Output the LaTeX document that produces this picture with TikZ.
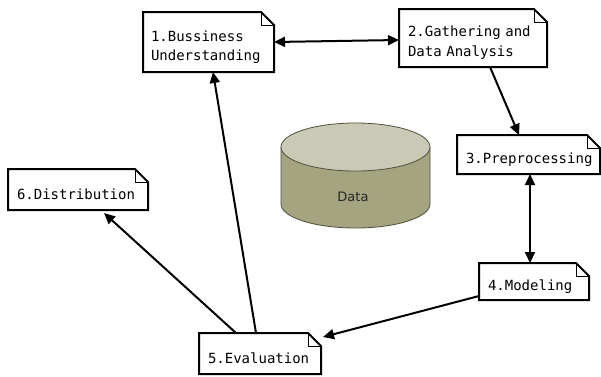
\documentclass[tikz,border=0pt]{standalone}
\usepackage{fontspec}
\setmainfont{DejaVu Sans}
\newfontfamily\notemono{DejaVu Sans Mono}
\usetikzlibrary{arrows.meta}
\definecolor{cyltop}{RGB}{201,201,181}
\definecolor{cylbody}{RGB}{164,164,128}
\definecolor{cyledge}{RGB}{80,80,60}
\tikzset{
 note/.style={rectangle, draw=none, outer sep=0pt, inner sep=0pt},
 notetext/.style={inner xsep=0pt, inner ysep=0pt, align=left, yshift=-5pt,
   font=\notemono\fontsize{14}{19.5}\selectfont},
 link/.style={line width=2pt, -{Triangle[length=11pt,width=10pt]}},
 dlink/.style={line width=2pt, {Triangle[length=11pt,width=10pt]}-{Triangle[length=11pt,width=10pt]}},
 noteedge/.style={line width=2pt, line join=miter},
 fold/.style={line width=0.8pt},
}
\newcommand\dognote[1]{%
 \draw[noteedge] (#1.north west) -- ([xshift=-13pt]#1.north east) -- ([yshift=-13pt]#1.north east) -- (#1.south east) -- (#1.south west) -- cycle;
 \draw[fold] ([xshift=-13pt]#1.north east) -- ([xshift=-13pt,yshift=-13pt]#1.north east) -- ([yshift=-13pt]#1.north east);
}
\begin{document}
\begin{tikzpicture}[x=1pt,y=-1pt]
\useasboundingbox (0,0) rectangle (601,376);
% cylinder
\fill[cylbody] (281,147) -- (281,204) arc[start angle=180, end angle=360, x radius=74.5pt, y radius=24pt] -- (430,147) -- cycle;
\draw[cyledge, line width=0.8pt] (281,147) -- (281,204) arc[start angle=180, end angle=360, x radius=74.5pt, y radius=24pt] -- (430,147);
\draw[cyledge, line width=0.8pt, fill=cyltop] (355.5,147) ellipse [x radius=74.5pt, y radius=24pt];
\node[font=\fontsize{13}{15}\selectfont, text=black!85] (data) at (353,197) {Data};
% notes
\node[note, minimum width=131pt, minimum height=60pt,
  label={[notetext, name=t1, text width=115pt]center:{1.Bussiness\\Understanding}}] (n1) at (208.5,42) {};
\node[note, minimum width=148pt, minimum height=58pt,
  label={[notetext, name=t2, text width=130pt, yshift=0.5pt]center:{2.Gathering and\\Data Analysis}}] (n2) at (473,38) {};
\node[note, minimum width=143pt, minimum height=39pt,
  label={[notetext, name=t3, text width=125pt]center:{3.Preprocessing}}] (n3) at (528.5,154.5) {};
\node[note, minimum width=110pt, minimum height=37pt,
  label={[notetext, name=t4, text width=92pt]center:{4.Modeling}}] (n4) at (534,281.5) {};
\node[note, minimum width=122pt, minimum height=41pt,
  label={[notetext, name=t5, text width=104pt]center:{5.Evaluation}}] (n5) at (260,353.5) {};
\node[note, minimum width=140pt, minimum height=41pt,
  label={[notetext, name=t6, text width=122pt, yshift=0.5pt]center:{6.Distribution}}] (n6) at (78,189.5) {};
\dognote{n1}\dognote{n2}\dognote{n3}\dognote{n4}\dognote{n5}\dognote{n6}
% connectors
\draw[dlink] (n1.east) -- ([yshift=-2pt]n2.west);
\draw[link] ([xshift=17pt]n2.south) -- ([xshift=-9.5pt]n3.north);
\draw[dlink] ([xshift=1.5pt]n3.south) -- ([xshift=1.5pt]n3.south |- n4.north);
\draw[link] ([yshift=4pt]n4.south west) -- ([xshift=2pt,yshift=-4pt]n5.north east);
\draw[link] ([xshift=-4pt]n5.north) -- ([xshift=4.5pt]n1.south);
\draw[link] ([xshift=-24pt]n5.north) -- ([xshift=26pt,yshift=-3pt]n6.south);
\end{tikzpicture}
\end{document}
